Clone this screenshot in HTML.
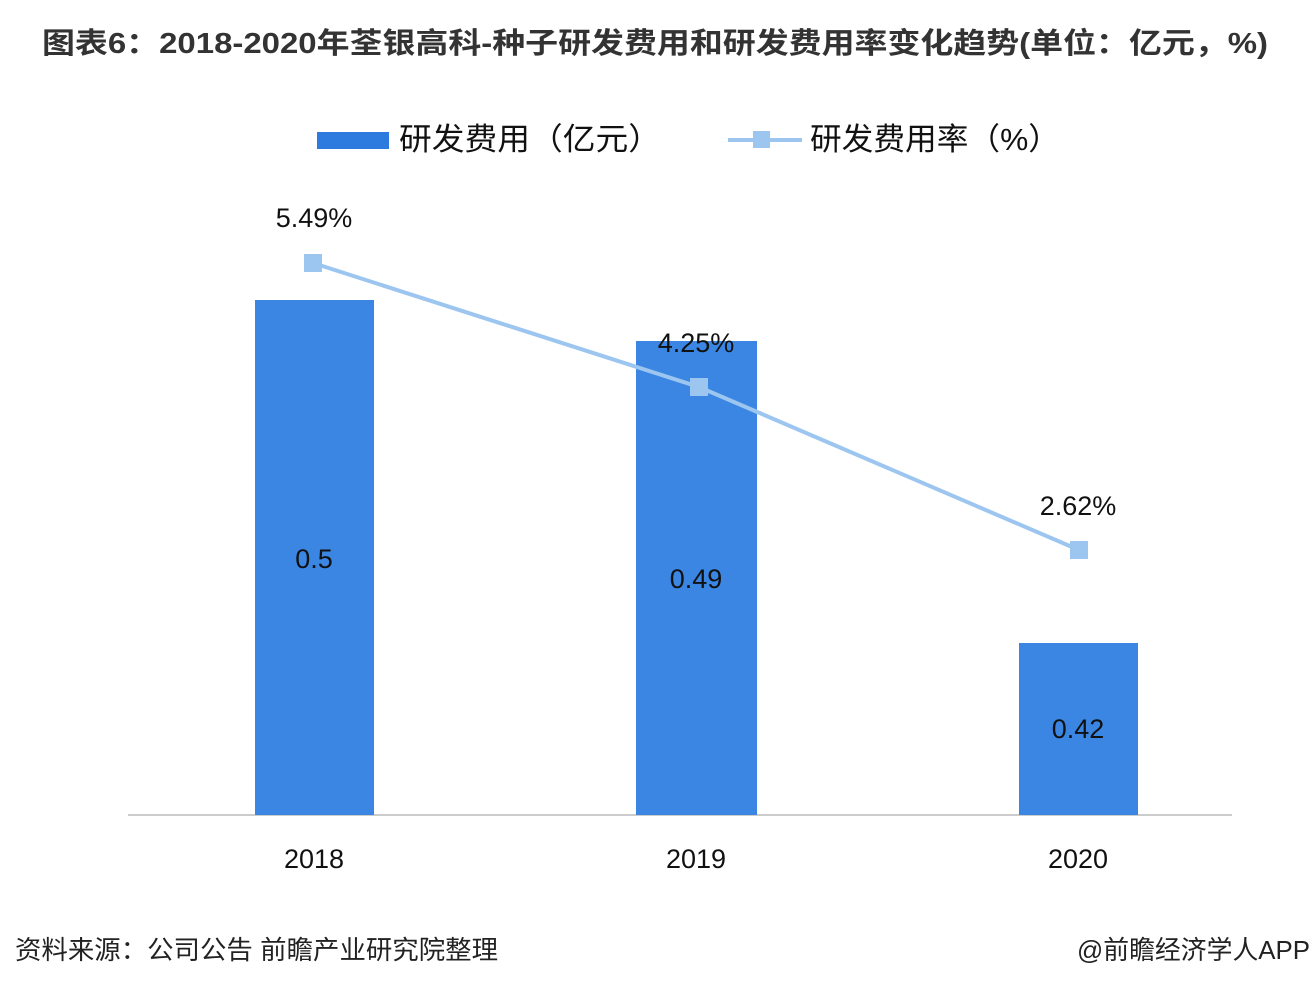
<!DOCTYPE html>
<html><head><meta charset="utf-8"><style>
body{margin:0;width:1312px;height:992px;background:#fff;overflow:hidden;font-family:"Liberation Sans","Noto Sans CJK SC",sans-serif;}
</style></head><body>
<svg width="1312" height="992" xmlns="http://www.w3.org/2000/svg" font-family="Liberation Sans, Noto Sans CJK SC, sans-serif">
<rect width="1312" height="992" fill="#fff"/>
<text x="655" y="53" text-anchor="middle" font-size="29" font-weight="bold" fill="#333" textLength="1226" lengthAdjust="spacingAndGlyphs">图表6：2018-2020年荃银高科-种子研发费用和研发费用率变化趋势(单位：亿元，%)</text>
<rect x="317" y="132" width="72" height="17" fill="#2e7be0"/>
<text x="399" y="150" font-size="31" fill="#111" textLength="262" lengthAdjust="spacingAndGlyphs">研发费用（亿元）</text>
<line x1="728" y1="140" x2="802" y2="140" stroke="#9cc6f0" stroke-width="4"/>
<rect x="753" y="131" width="17" height="17" fill="#9cc6f0"/>
<text x="810" y="150" font-size="31" fill="#111" textLength="250" lengthAdjust="spacingAndGlyphs">研发费用率（%）</text>
<line x1="128" y1="815" x2="1232" y2="815" stroke="#ccc" stroke-width="2"/>
<rect x="255" y="300" width="119" height="515" fill="#3a86e2"/>
<rect x="636" y="341" width="121" height="474" fill="#3a86e2"/>
<rect x="1019" y="643" width="119" height="172" fill="#3a86e2"/>
<g font-size="27" fill="#111" text-anchor="middle">
<text x="314" y="568">0.5</text>
<text x="696" y="588">0.49</text>
<text x="1078" y="738">0.42</text>
<text x="314" y="868">2018</text>
<text x="696" y="868">2019</text>
<text x="1078" y="868">2020</text>
</g>
<polyline points="313,263 699,387 1079,550" fill="none" stroke="#9cc6f0" stroke-width="4"/>
<rect x="304" y="254" width="18" height="18" fill="#9cc6f0"/>
<rect x="690" y="378" width="18" height="18" fill="#9cc6f0"/>
<rect x="1070" y="541" width="18" height="18" fill="#9cc6f0"/>
<g font-size="27" fill="#111" text-anchor="middle">
<text x="314" y="227">5.49%</text>
<text x="696" y="352">4.25%</text>
<text x="1078" y="515">2.62%</text>
</g>
<text x="15" y="959" font-size="26" fill="#222" textLength="483" lengthAdjust="spacingAndGlyphs">资料来源：公司公告 前瞻产业研究院整理</text>
<text x="1077" y="959" font-size="26" fill="#222" textLength="233" lengthAdjust="spacingAndGlyphs">@前瞻经济学人APP</text>
</svg>
</body></html>
